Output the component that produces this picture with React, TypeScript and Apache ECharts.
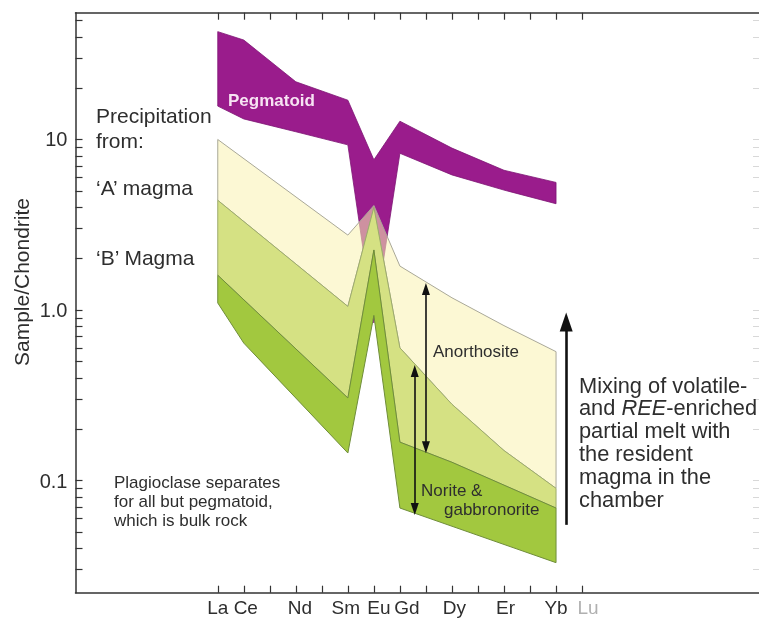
import { useEffect, useRef } from 'react';
import * as echarts from 'echarts';

// REE order (chondrite-normalised spider diagram)
const elements = ['La', 'Ce', 'Pr', 'Nd', 'Pm', 'Sm', 'Eu', 'Gd', 'Tb', 'Dy', 'Ho', 'Er', 'Tm', 'Yb', 'Lu'];
const labelledElements = ['La', 'Ce', 'Nd', 'Sm', 'Eu', 'Gd', 'Dy', 'Er', 'Yb', 'Lu'];
// small horizontal nudges (px) of the element labels relative to their ticks
const labelNudge = [0, 2, 4, -2, 5, 7, 2.5, 1.5, 0, 6];

// y-axis ticks (log scale)
const majorTicks = [0.1, 1, 10];
const majorTickLabels = ['0.1', '1.0', '10'];
const minorTicks = [
  0.03, 0.04, 0.05, 0.06, 0.07, 0.08, 0.09,
  0.1, 0.2, 0.3, 0.4, 0.5, 0.6, 0.7, 0.8, 0.9,
  1, 2, 3, 4, 5, 6, 7, 8, 9,
  10, 20, 30, 40, 50,
];

// Pegmatoid envelope (bulk rock)
const pegmatoidUpper: [string, number][] = [
  ['La', 42.9], ['Ce', 38.3], ['Nd', 21.8], ['Sm', 17.0], ['Eu', 7.6],
  ['Gd', 12.8], ['Dy', 8.9], ['Er', 6.6], ['Yb', 5.6],
];
const pegmatoidLower: [string, number][] = [
  ['La', 15.7], ['Ce', 13.2], ['Nd', 11.1], ['Sm', 9.3], ['Eu', 0.84],
  ['Gd', 8.3], ['Dy', 6.2], ['Er', 5.05], ['Yb', 4.2],
];

// Plagioclase precipitated from 'A' magma (upper edge)
const magmaAUpper: [string, number][] = [
  ['La', 10], ['Sm', 2.75], ['Eu', 4.1], ['Gd', 1.81], ['Dy', 1.18], ['Er', 0.81], ['Yb', 0.57],
];
// Plagioclase precipitated from 'B' magma (upper edge)
const magmaBUpper: [string, number][] = [
  ['La', 4.4], ['Sm', 1.05], ['Eu', 4.0], ['Gd', 0.6], ['Dy', 0.28], ['Er', 0.15], ['Yb', 0.09],
];
// Norite & gabbronorite envelope
const noriteUpper: [string, number][] = [
  ['La', 1.6], ['Sm', 0.305], ['Eu', 2.25], ['Gd', 0.168], ['Dy', 0.128], ['Er', 0.094], ['Yb', 0.069],
];
const noriteLower: [string, number][] = [
  ['La', 1.1], ['Ce', 0.64], ['Sm', 0.145], ['Eu', 0.93], ['Gd', 0.069], ['Yb', 0.033],
];

// Arrows: [element position, from value, to value]
const anorthositeRange: [number, number, number] = [8, 1.33, 0.157];
const noriteRange: [number, number, number] = [7.57, 0.439, 0.068];
const mixingTrend: [number, number, number] = [13.39, 0.055, 0.85];

const X_MIN = -5.467;
const X_MAX = 20.8;
const Y_MIN = 0.022;
const Y_MAX = 55.4;

const FONT = '"Liberation Sans", Arial, Helvetica, sans-serif';
const TEXT = '#2e2e2e';

const idx = (name: string) => elements.indexOf(name);
const toPoints = (edge: [string, number][]) => edge.map(([e, v]) => [idx(e), v]);
const band = (upper: [string, number][], lower: [string, number][]) => [
  ...toPoints(upper),
  ...toPoints(lower).reverse(),
];

function polygonSeries(name: string, pts: number[][], style: any) {
  return {
    type: 'custom',
    name,
    coordinateSystem: 'cartesian2d',
    xAxisIndex: 0,
    yAxisIndex: 0,
    silent: true,
    data: [pts[0]],
    renderItem: (_params: any, api: any) => ({
      type: 'polygon',
      shape: { points: pts.map((p) => api.coord(p)) },
      style: { ...style },
    }),
  };
}

function arrowSeries(name: string, r: [number, number, number], startSymbol: string, endSymbol: string, size: number[], width: number) {
  return {
    type: 'line',
    name,
    data: [],
    xAxisIndex: 0,
    yAxisIndex: 0,
    markLine: {
      silent: true,
      symbol: [startSymbol, endSymbol],
      symbolSize: size,
      label: { show: false },
      lineStyle: { color: '#111', width, type: 'solid' },
      data: [[{ coord: [r[0], r[1]] }, { coord: [r[0], r[2]] }]],
    },
  };
}

function text(x: number, y: number, str: string, extra: any = {}) {
  return {
    type: 'text',
    x,
    y,
    silent: true,
    z: 100,
    style: {
      text: str,
      fontFamily: FONT,
      fontSize: 21,
      fill: TEXT,
      align: 'left',
      verticalAlign: 'middle',
      ...extra,
    },
  };
}

const tickStyle = { color: '#333', width: 1.2 };

export default function App() {
  const ref = useRef<HTMLDivElement>(null);

  useEffect(() => {
    if (!ref.current) return;
    const chart = echarts.init(ref.current, undefined, { renderer: 'svg' });

    const xCommon = {
      type: 'value',
      min: X_MIN,
      max: X_MAX,
      splitLine: { show: false },
      axisLine: { show: true, onZero: false, lineStyle: { color: '#333', width: 1.5 } },
      axisTick: {
        show: true,
        inside: true,
        length: 7,
        customValues: elements.map((_, i) => i),
        lineStyle: tickStyle,
      },
    };

    // rich styles that nudge each element label sideways
    const labelRich: Record<string, any> = {};
    labelledElements.forEach((el, i) => {
      const d = labelNudge[i];
      labelRich['e' + i] = {
        fontSize: 19,
        fontFamily: FONT,
        color: el === 'Lu' ? '#b0b0b0' : TEXT,
        padding: d >= 0 ? [0, 0, 0, 2 * d] : [0, -2 * d, 0, 0],
      };
    });

    const mixingLines = [
      'Mixing of volatile-',
      'and {i|REE}-enriched',
      'partial melt with',
      'the resident',
      'magma in the',
      'chamber',
    ];

    chart.setOption({
      animation: false,
      grid: { left: 75.5, top: 12.7, width: 686, height: 580, containLabel: false },
      xAxis: [
        {
          ...xCommon,
          position: 'bottom',
          axisLabel: {
            show: true,
            customValues: labelledElements.map(idx),
            formatter: (v: number) => {
              const name = elements[Math.round(v)];
              const i = labelledElements.indexOf(name);
              return `{e${i}|${name}}`;
            },
            rich: labelRich,
            fontSize: 19,
            fontFamily: FONT,
            color: TEXT,
            margin: 5,
          },
        },
        {
          ...xCommon,
          position: 'top',
          axisLabel: { show: false },
        },
      ],
      yAxis: [
        {
          type: 'log',
          logBase: 10,
          min: Y_MIN,
          max: Y_MAX,
          position: 'left',
          splitLine: { show: false },
          axisLine: { show: true, onZero: false, lineStyle: { color: '#333', width: 1.5 } },
          axisTick: { show: true, inside: true, length: 7, customValues: minorTicks, lineStyle: tickStyle },
          axisLabel: {
            show: true,
            customValues: majorTicks,
            formatter: (v: number) => {
              const i = majorTicks.findIndex((m) => Math.abs(m - v) / m < 1e-6);
              return i >= 0 ? majorTickLabels[i] : '';
            },
            fontSize: 20,
            fontFamily: FONT,
            color: TEXT,
            margin: 8,
          },
        },
        {
          type: 'log',
          logBase: 10,
          min: Y_MIN,
          max: Y_MAX,
          position: 'right',
          splitLine: { show: false },
          axisLine: { show: true, onZero: false, lineStyle: { color: '#d8d8d8', width: 1 } },
          axisTick: { show: true, inside: true, length: 6, customValues: minorTicks, lineStyle: { color: '#d8d8d8', width: 1 } },
          axisLabel: { show: false },
        },
      ],
      series: [
        polygonSeries('Pegmatoid', band(pegmatoidUpper, pegmatoidLower), {
          fill: '#9a1c8c',
          stroke: '#7d1473',
          lineWidth: 0.8,
        }),
        polygonSeries("'A' magma", band(magmaAUpper, magmaBUpper), {
          fill: 'rgba(250,242,176,0.55)',
          stroke: '#a9a898',
          lineWidth: 1,
        }),
        polygonSeries("'B' magma", band(magmaBUpper, noriteUpper), {
          fill: '#d5e183',
          stroke: '#9dab6c',
          lineWidth: 1,
        }),
        polygonSeries('Norite & gabbronorite', band(noriteUpper, noriteLower), {
          fill: '#a2c83f',
          stroke: '#6f8d3a',
          lineWidth: 1,
        }),
        arrowSeries('Anorthosite range', anorthositeRange, 'triangle', 'triangle', [8, 12], 1.6),
        arrowSeries('Norite range', noriteRange, 'triangle', 'triangle', [8, 12], 1.6),
        arrowSeries('Mixing trend', mixingTrend, 'none', 'triangle', [13, 19], 2.6),
      ],
      graphic: [
        {
          type: 'text',
          x: 21,
          y: 282,
          rotation: Math.PI / 2,
          silent: true,
          style: {
            text: 'Sample/Chondrite',
            fontFamily: FONT,
            fontSize: 21,
            fill: TEXT,
            align: 'center',
            verticalAlign: 'middle',
          },
        },
        text(96, 115, 'Precipitation'),
        text(96, 140, 'from:'),
        text(96, 187, '\u2018A\u2019 magma'),
        text(96, 257, '\u2018B\u2019 Magma'),
        text(228, 100, 'Pegmatoid', { fontSize: 17, fontWeight: 'bold', fill: '#f7e3f3' }),
        text(114, 482, 'Plagioclase separates', { fontSize: 17 }),
        text(114, 501, 'for all but pegmatoid,', { fontSize: 17 }),
        text(114, 520, 'which is bulk rock', { fontSize: 17 }),
        text(433, 351, 'Anorthosite', { fontSize: 17 }),
        text(421, 490, 'Norite &', { fontSize: 17 }),
        text(444, 509, 'gabbronorite', { fontSize: 17 }),
        ...mixingLines.map((line, i) =>
          text(579, 385 + i * 22.8, line, {
            fontSize: 21.8,
            rich: { i: { fontStyle: 'italic', fontSize: 21.8, fontFamily: FONT, fill: TEXT } },
          })
        ),
      ],
    });

    return () => chart.dispose();
  }, []);

  return <div ref={ref} style={{ position: 'fixed', left: 0, top: 0, width: 759, height: 620 }} />;
}
